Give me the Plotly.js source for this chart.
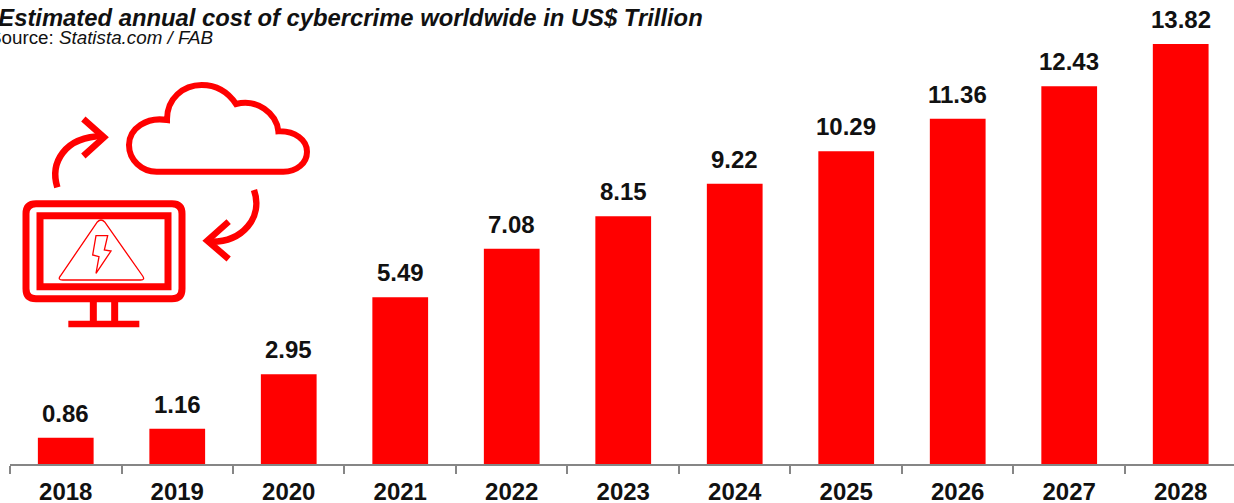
<!DOCTYPE html>
<html>
<head>
<meta charset="utf-8">
<script src="https://cdn.plot.ly/plotly-3.0.1.min.js"></script>
<style>
  html, body { margin: 0; padding: 0; background: #fff; overflow: hidden; }
  #chart { width: 1234px; height: 503px; }
</style>
</head>
<body>
<div id="chart"></div>
<script>
const years = ['2018', '2019', '2020', '2021', '2022', '2023', '2024', '2025', '2026', '2027', '2028'];
const costTrillion = [0.86, 1.16, 2.95, 5.49, 7.08, 8.15, 9.22, 10.29, 11.36, 12.43, 13.82];
const valueLabels = ['0.86', '1.16', '2.95', '5.49', '7.08', '8.15', '9.22', '10.29', '11.36', '12.43', '13.82'];

const RED = '#ff0000';
const GREY = '#868686';
const FONT = '"Liberation Sans", Arial, sans-serif';
const WIDTH = 1234, HEIGHT = 503;
const M = { l: 10, r: 0, t: 0, b: 39 };

// Icon outlines, written at 3x page scale with a 60px downward offset.
const iconParts = [
  // monitor bezel
  { d: 'M108,431 L516,431 Q546,431 546,461 L546,686 Q546,716 516,716 L108,716 Q78,716 78,686 L78,461 Q78,431 108,431 Z', w: 7 },
  // screen
  { d: 'M120,467 L504,467 L504,680 L120,680 Z', w: 7 },
  // stand
  { d: 'M280,722 L280,786', w: 7 },
  { d: 'M344,722 L344,786', w: 7 },
  { d: 'M205,792 L418,792', w: 6.3 },
  // warning triangle
  { d: 'M292,486 Q303,474 314,486 L428,648 Q436,660 422,660 L188,660 Q172,660 181,648 Z', w: 1.3 },
  // lightning bolt
  { d: 'M288,527 L323,527 L313,570 L333,573 L288,640 L297,590 L278,585 Z', w: 1.3 },
  // cloud
  { d: 'M470,335 L850,335 C890,335 921,310 921,275 C921,240 885,212 835,214 C830,160 770,115 708,132 C680,90 640,75 605,75 C550,75 500,115 501,180 C440,170 387,205 387,255 C387,300 425,335 470,335 Z', w: 6 },
  // arrow from monitor to cloud
  { d: 'M172,382 C150,310 190,230 310,228', w: 6.5 },
  { d: 'M250,177 L312,232 L250,288', w: 6.5 },
  // arrow from cloud to monitor
  { d: 'M762,390 C790,470 730,550 625,545', w: 6.5 },
  { d: 'M686,485 L622,542 L686,597', w: 6.5 }
];

// Converts a 3x outline into pixel offsets from the top-left corner of the plot area.
function toPixelPath(d) {
  return d.replace(/(-?[\d.]+),(-?[\d.]+)/g, (_, x, y) => {
    const px = x / 3 - M.l;
    const py = -(y / 3 + 60 - M.t);
    return px.toFixed(2) + ',' + py.toFixed(2);
  });
}

const iconShapes = iconParts.map(p => ({
  type: 'path',
  xref: 'paper', yref: 'paper',
  xsizemode: 'pixel', ysizemode: 'pixel',
  xanchor: 0, yanchor: 1,
  path: toPixelPath(p.d),
  line: { color: RED, width: p.w },
  fillcolor: 'rgba(0,0,0,0)',
  layer: 'above'
}));

// Category axes place annotations by category index.
const valueAnnotations = years.map((yr, i) => ({
  x: i, y: costTrillion[i],
  xref: 'x', yref: 'y',
  text: '<b>' + valueLabels[i] + '</b>',
  showarrow: false,
  yanchor: 'bottom', yshift: 9,
  font: { family: FONT, size: 24, color: '#111111' }
}));

const sourceNote = {
  xref: 'paper', yref: 'paper',
  x: (-13 - M.l) / (WIDTH - M.l), xanchor: 'left',
  y: 1 - 38 / (HEIGHT - M.b), yanchor: 'middle',
  text: 'Source: <i>Statista.com / FAB</i>',
  showarrow: false,
  font: { family: FONT, size: 18.8, color: '#111111' }
};

const trace = {
  type: 'bar',
  x: years,
  y: costTrillion,
  width: 0.5,
  marker: { color: RED, line: { width: 0 } },
  hoverinfo: 'x+y'
};

const layout = {
  width: WIDTH, height: HEIGHT,
  margin: M,
  paper_bgcolor: '#ffffff',
  plot_bgcolor: '#ffffff',
  showlegend: false,
  title: {
    text: '<b><i>Estimated annual cost of cybercrime worldwide in US$ Trillion</i></b>',
    xref: 'container', yref: 'container',
    x: 350.5 / WIDTH, xanchor: 'center',
    y: 1 - 18 / HEIGHT, yanchor: 'middle',
    font: { family: FONT, size: 23.8, color: '#111111' }
  },
  xaxis: {
    type: 'category',
    range: [-0.5, 10.478],
    tickson: 'boundaries',
    ticks: 'outside', ticklen: 8, tickwidth: 2, tickcolor: GREY,
    showline: true, linecolor: GREY, linewidth: 2,
    showgrid: false, zeroline: false,
    ticklabelstandoff: 5,
    tickfont: { family: FONT, size: 24, color: '#111111', weight: 'bold' }
  },
  yaxis: {
    range: [0, 464 / 30.39],
    visible: false,
    showgrid: false, zeroline: false
  },
  shapes: iconShapes,
  annotations: valueAnnotations.concat([sourceNote])
};

Plotly.newPlot('chart', [trace], layout, { displayModeBar: false, responsive: false });
</script>
</body>
</html>
